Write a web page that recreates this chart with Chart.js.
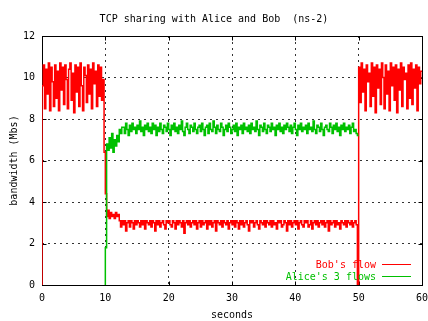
<!DOCTYPE html>
<html>
<head>
<meta charset="utf-8">
<script src="https://cdn.jsdelivr.net/npm/chart.js@4/dist/chart.umd.min.js"></script>
<style>
  html, body { margin: 0; padding: 0; background: #fff; }
</style>
</head>
<body>
<canvas id="tcp" width="428" height="321"></canvas>
<script>
// sample times (s)
var seconds = [
  0, 0.2, 0.4, 0.6, 0.8, 1, 1.2, 1.4, 1.6, 1.8,
  2, 2.2, 2.4, 2.6, 2.8, 3, 3.2, 3.4, 3.6, 3.8,
  4, 4.2, 4.4, 4.6, 4.8, 5, 5.2, 5.4, 5.6, 5.8,
  6, 6.2, 6.4, 6.6, 6.8, 7, 7.2, 7.4, 7.6, 7.8,
  8, 8.2, 8.4, 8.6, 8.8, 9, 9.2, 9.4, 9.6, 9.8,
  10, 10.2, 10.4, 10.6, 10.8, 11, 11.2, 11.4, 11.6, 11.8,
  12, 12.2, 12.4, 12.6, 12.8, 13, 13.2, 13.4, 13.6, 13.8,
  14, 14.2, 14.4, 14.6, 14.8, 15, 15.2, 15.4, 15.6, 15.8,
  16, 16.2, 16.4, 16.6, 16.8, 17, 17.2, 17.4, 17.6, 17.8,
  18, 18.2, 18.4, 18.6, 18.8, 19, 19.2, 19.4, 19.6, 19.8,
  20, 20.2, 20.4, 20.6, 20.8, 21, 21.2, 21.4, 21.6, 21.8,
  22, 22.2, 22.4, 22.6, 22.8, 23, 23.2, 23.4, 23.6, 23.8,
  24, 24.2, 24.4, 24.6, 24.8, 25, 25.2, 25.4, 25.6, 25.8,
  26, 26.2, 26.4, 26.6, 26.8, 27, 27.2, 27.4, 27.6, 27.8,
  28, 28.2, 28.4, 28.6, 28.8, 29, 29.2, 29.4, 29.6, 29.8,
  30, 30.2, 30.4, 30.6, 30.8, 31, 31.2, 31.4, 31.6, 31.8,
  32, 32.2, 32.4, 32.6, 32.8, 33, 33.2, 33.4, 33.6, 33.8,
  34, 34.2, 34.4, 34.6, 34.8, 35, 35.2, 35.4, 35.6, 35.8,
  36, 36.2, 36.4, 36.6, 36.8, 37, 37.2, 37.4, 37.6, 37.8,
  38, 38.2, 38.4, 38.6, 38.8, 39, 39.2, 39.4, 39.6, 39.8,
  40, 40.2, 40.4, 40.6, 40.8, 41, 41.2, 41.4, 41.6, 41.8,
  42, 42.2, 42.4, 42.6, 42.8, 43, 43.2, 43.4, 43.6, 43.8,
  44, 44.2, 44.4, 44.6, 44.8, 45, 45.2, 45.4, 45.6, 45.8,
  46, 46.2, 46.4, 46.6, 46.8, 47, 47.2, 47.4, 47.6, 47.8,
  48, 48.2, 48.4, 48.6, 48.8, 49, 49.2, 49.4, 49.6, 49.8,
  50, 50.2, 50.4, 50.6, 50.8, 51, 51.2, 51.4, 51.6, 51.8,
  52, 52.2, 52.4, 52.6, 52.8, 53, 53.2, 53.4, 53.6, 53.8,
  54, 54.2, 54.4, 54.6, 54.8, 55, 55.2, 55.4, 55.6, 55.8,
  56, 56.2, 56.4, 56.6, 56.8, 57, 57.2, 57.4, 57.6, 57.8,
  58, 58.2, 58.4, 58.6, 58.8, 59, 59.2, 59.4, 59.6, 59.8,
  60
];

// Bob's flow (Mbs)
var bobFlow = [
  0,
  9.6, 10.6, 8.5, 10.4, 9.2, 10.7, 8.4, 10.5, 9.8, 8.6,
  10.6, 9.0, 10.3, 8.4, 10.7, 9.4, 10.5, 8.7, 10.6, 9.9,
  8.5, 10.4, 10.7, 8.9, 10.2, 8.3, 10.6, 9.3, 10.5, 8.6,
  10.7, 9.6, 8.4, 10.5, 10.1, 8.8, 10.6, 9.2, 10.4, 8.5,
  10.7, 9.7, 10.3, 8.6, 10.6, 9.1, 10.5, 8.9, 9.9,
  6.4, 4.4,
  3.3, 3.6, 3.2, 3.5, 3.3, 3.4, 3.2, 3.5, 3.3, 3.4,
  3.1, 2.8, 3.1, 2.9, 3.1, 2.6, 3.0, 3.1, 2.8, 3.1, 3.0, 2.7, 3.1, 2.9, 3.1, 3.0, 2.8, 3.1, 2.9, 3.1,
  2.7, 3.1, 3.0, 2.9, 3.1, 2.8, 3.1, 3.0, 2.6, 3.1, 2.9, 3.1, 2.8, 3.0, 3.1, 2.9, 2.7, 3.1, 3.0, 3.1,
  2.9, 2.8, 3.1, 3.0, 2.7, 3.1, 2.9, 3.1, 3.0, 2.8, 3.1, 2.5, 3.0, 3.1, 2.9, 3.1, 2.8, 3.0, 3.1, 2.9,
  3.1, 2.7, 3.0, 3.1, 2.8, 3.1, 2.9, 3.0, 3.1, 2.7, 3.1, 2.9, 3.1, 2.8, 3.0, 3.1, 2.6, 3.1, 3.0, 2.9,
  3.1, 2.8, 3.1, 3.0, 2.9, 3.1, 2.7, 3.0, 3.1, 2.9, 3.1, 2.8, 3.1, 3.0, 2.7, 3.1, 2.9, 3.1, 2.8, 3.0,
  3.1, 2.9, 2.6, 3.1, 3.0, 3.1, 2.8, 3.0, 3.1, 2.9, 2.7, 3.1, 3.0, 2.9, 3.1, 2.8, 3.1, 3.0, 2.9, 3.1,
  2.8, 3.1, 2.9, 3.0, 2.7, 3.1, 3.0, 3.1, 2.8, 2.9, 3.1, 3.0, 2.6, 3.1, 2.9, 3.1, 2.8, 3.0, 3.1, 2.9,
  3.1, 2.7, 3.0, 3.1, 2.9, 2.8, 3.1, 3.0, 3.1, 2.8, 2.9, 3.1, 2.7, 3.0, 3.1, 2.9, 3.1, 2.8, 3.0, 3.1,
  2.9, 3.1, 2.8, 3.0, 3.1, 2.6, 3.1, 2.9, 3.0, 3.1, 2.8, 3.1, 2.9, 3.0, 2.7, 3.1, 3.0, 2.9, 3.1, 2.8,
  3.1, 3.0, 2.9, 3.1, 2.8, 3.0, 3.1, 2.9,
  0,
  10.5, 8.8, 10.7, 9.3, 10.4, 8.4, 10.6, 9.8, 10.2, 8.6,
  10.7, 9.1, 10.5, 8.3, 10.6, 9.5, 10.4, 8.7, 10.7, 10.0,
  8.5, 10.6, 9.2, 10.3, 8.4, 10.7, 9.6, 10.5, 8.9, 10.6,
  8.3, 10.4, 9.4, 10.7, 8.6, 10.5, 9.9, 10.2, 8.5, 10.6,
  9.0, 10.7, 8.7, 10.4, 9.5, 10.6, 8.4, 10.5, 9.7, 10.3
];

// Alice's 3 flows (Mbs), only between 10 s and 50 s
var aliceFlows = [
  null, null, null, null, null, null, null, null, null, null,
  null, null, null, null, null, null, null, null, null, null,
  null, null, null, null, null, null, null, null, null, null,
  null, null, null, null, null, null, null, null, null, null,
  null, null, null, null, null, null, null, null, null, null,
  0, 1.8,
  6.8, 6.5, 7.1, 6.6, 7.3, 6.4, 7.0, 6.7, 7.2, 6.9, 7.5, 7.3, 7.6,
  7.6, 7.3, 7.8, 7.5, 7.2, 7.7, 7.4, 7.8, 7.5, 7.6, 7.3, 7.7, 7.5, 7.9, 7.4, 7.6, 7.2, 7.7, 7.5, 7.8,
  7.4, 7.6, 7.3, 7.8, 7.5, 7.7, 7.2, 7.6, 7.4, 7.8, 7.5, 7.3, 7.7, 7.6, 7.4, 7.8, 7.5, 7.2, 7.7, 7.5,
  7.8, 7.4, 7.6, 7.3, 7.7, 7.5, 7.9, 7.4, 7.2, 7.6, 7.8, 7.5, 7.3, 7.7, 7.6, 7.4, 7.8, 7.5, 7.3, 7.6,
  7.7, 7.4, 7.8, 7.5, 7.2, 7.6, 7.7, 7.3, 7.8, 7.5, 7.4, 7.9, 7.6, 7.3, 7.7, 7.5, 7.4, 7.8, 7.6, 7.2,
  7.5, 7.7, 7.4, 7.8, 7.6, 7.3, 7.5, 7.7, 7.4, 7.8, 7.2, 7.6, 7.5, 7.7, 7.3, 7.8, 7.5, 7.6, 7.4, 7.7,
  7.3, 7.8, 7.5, 7.6, 7.4, 7.9, 7.5, 7.2, 7.7, 7.6, 7.4, 7.8, 7.5, 7.3, 7.7, 7.6, 7.4, 7.8, 7.5, 7.6,
  7.2, 7.7, 7.5, 7.8, 7.4, 7.6, 7.3, 7.7, 7.5, 7.8, 7.6, 7.4, 7.7, 7.3, 7.6, 7.8, 7.5, 7.2, 7.7, 7.5,
  7.8, 7.4, 7.6, 7.5, 7.7, 7.3, 7.8, 7.5, 7.6, 7.4, 7.9, 7.5, 7.3, 7.7, 7.6, 7.4, 7.8, 7.5, 7.2, 7.6,
  7.7, 7.5, 7.4, 7.8, 7.6, 7.3, 7.7, 7.5, 7.8, 7.4, 7.6, 7.2, 7.7, 7.5, 7.8, 7.4, 7.6, 7.5, 7.7, 7.3,
  7.6, 7.8, 7.4, 7.5, 7.3, 7.2,
  null, null, null, null, null, null, null, null, null, null,
  null, null, null, null, null, null, null, null, null, null,
  null, null, null, null, null, null, null, null, null, null,
  null, null, null, null, null, null, null, null, null, null,
  null, null, null, null, null, null, null, null, null, null
];

var xTickLabels = [0, 10, 20, 30, 40, 50, 60];
var yTickLabels = [0, 2, 4, 6, 8, 10, 12];

var monoFont = { family: "'DejaVu Sans Mono', 'Liberation Mono', monospace", size: 10, weight: 'normal' };
var fontStr = "10px 'DejaVu Sans Mono', 'Liberation Mono', monospace";

// gnuplot style box with inward tics
var framePlugin = {
  id: 'frame',
  beforeDatasetsDraw: function(chart) {
    var ctx = chart.ctx, a = chart.chartArea;
    var l = Math.round(a.left) + 0.5, r = Math.round(a.right) + 0.5;
    var t = Math.round(a.top) + 0.5, b = Math.round(a.bottom) + 0.5;
    ctx.save();
    ctx.strokeStyle = '#000';
    ctx.lineWidth = 1;
    ctx.setLineDash([]);
    ctx.strokeRect(l, t, r - l, b - t);
    ctx.beginPath();
    xTickLabels.forEach(function(v) {
      var px = Math.round(chart.scales.x.getPixelForValue(v)) + 0.5;
      ctx.moveTo(px, b); ctx.lineTo(px, b - 4);
      ctx.moveTo(px, t); ctx.lineTo(px, t + 4);
    });
    yTickLabels.forEach(function(v) {
      var py = Math.round(chart.scales.y.getPixelForValue(v)) + 0.5;
      ctx.moveTo(l, py); ctx.lineTo(l + 4, py);
      ctx.moveTo(r, py); ctx.lineTo(r - 4, py);
    });
    ctx.stroke();
    ctx.restore();
  }
};

// key in the lower right corner: text first, then the line sample
var keyPlugin = {
  id: 'key',
  afterDatasetsDraw: function(chart) {
    var ctx = chart.ctx, a = chart.chartArea;
    ctx.save();
    ctx.font = fontStr;
    ctx.textAlign = 'right';
    ctx.textBaseline = 'middle';
    chart.data.datasets.forEach(function(ds, i) {
      var y = Math.round(a.bottom) - 21 + i * 12;
      ctx.fillStyle = ds.borderColor;
      ctx.fillText(ds.label, a.right - 46, y + 1);
      ctx.strokeStyle = ds.borderColor;
      ctx.lineWidth = 1;
      ctx.beginPath();
      ctx.moveTo(a.right - 40, y + 0.5);
      ctx.lineTo(a.right - 11, y + 0.5);
      ctx.stroke();
    });
    ctx.restore();
  }
};

var ctx = document.getElementById('tcp');

var chartGraph = new Chart(ctx, {
  type: 'line',
  data: {
    labels: seconds,
    datasets: [{
      label: "Bob's flow",
      data: bobFlow,
      borderColor: '#ff0000',
      borderWidth: 1.5,
      pointRadius: 0,
      stepped: 'after',
      fill: false,
      order: 2
    },
    {
      label: "Alice's 3 flows",
      data: aliceFlows,
      borderColor: '#00c000',
      borderWidth: 1.5,
      pointRadius: 0,
      stepped: 'after',
      fill: false,
      order: 1
    }]
  },
  options: {
    responsive: false,
    animation: false,
    layout: { padding: { left: 0, right: 0, top: 0, bottom: 0 } },
    plugins: {
      legend: { display: false },
      tooltip: { enabled: false },
      title: {
        display: true,
        text: 'TCP sharing with Alice and Bob  (ns-2)',
        color: '#000',
        font: monoFont,
        padding: { top: 13, bottom: 11 }
      }
    },
    scales: {
      x: {
        type: 'linear',
        min: 0,
        max: 60,
        afterBuildTicks: function(s) { s.ticks = xTickLabels.map(function(v) { return { value: v }; }); },
        afterFit: function(s) { s.height = 36; s.paddingLeft = 0; s.paddingRight = 6; },
        grid: { color: '#333', lineWidth: 1, drawTicks: false },
        border: { display: false, dash: [2, 4] },
        ticks: { color: '#000', font: monoFont, padding: 7, maxRotation: 0, autoSkip: false },
        title: { display: true, text: 'seconds', color: '#000', font: monoFont, padding: { top: 0, bottom: 0 } }
      },
      y: {
        type: 'linear',
        min: 0,
        max: 12,
        afterBuildTicks: function(s) { s.ticks = yTickLabels.map(function(v) { return { value: v }; }); },
        afterFit: function(s) { s.width = 42; s.paddingTop = 0; s.paddingBottom = 0; },
        grid: { color: '#333', lineWidth: 1, drawTicks: false },
        border: { display: false, dash: [2, 4] },
        ticks: { color: '#000', font: monoFont, padding: 7 },
        title: { display: true, text: 'bandwidth (Mbs)', color: '#000', font: monoFont, padding: { top: 8, bottom: 0 } }
      }
    }
  },
  plugins: [framePlugin, keyPlugin]
});
</script>
</body>
</html>
